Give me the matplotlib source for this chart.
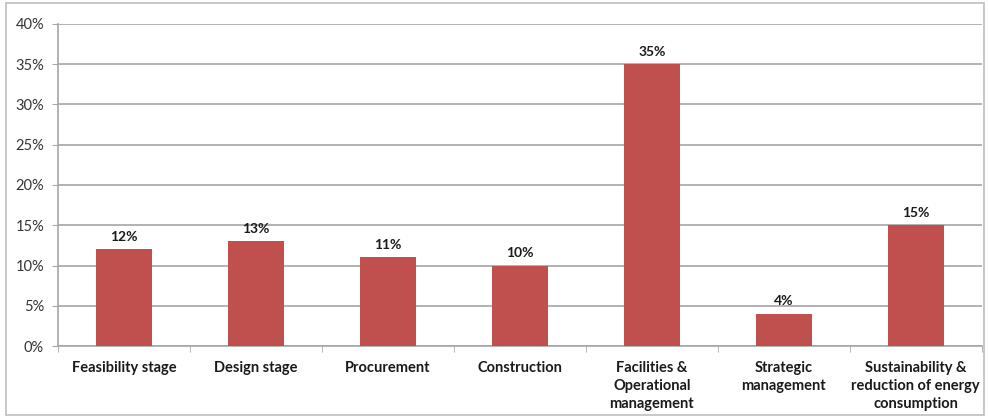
import matplotlib.pyplot as plt
from matplotlib.patches import Rectangle
import numpy as np

categories = ['Feasibility stage', 'Design stage', 'Procurement', 'Construction',
              'Facilities &\nOperational\nmanagement', 'Strategic\nmanagement',
              'Sustainability &\nreduction of energy\nconsumption']
values = [12, 13, 11, 10, 35, 4, 15]
value_labels = ['12%', '13%', '11%', '10%', '35%', '4%', '15%']
y_ticks = [0, 5, 10, 15, 20, 25, 30, 35, 40]

plt.rcParams['font.family'] = ['Lato', 'DejaVu Sans']

fig = plt.figure(figsize=(9.88, 4.18), dpi=100)
ax = fig.add_axes([0.0587, 0.172, 0.935, 0.771])

x = np.arange(len(categories))
ax.bar(x, values, width=0.42, color='#C0504D', zorder=3)

for xi, v, lab in zip(x, values, value_labels):
    ax.text(xi, v + 0.8, lab, ha='center', va='bottom', fontsize=10, fontweight='bold', color='#1a1a1a')

ax.set_xlim(-0.5, len(categories) - 0.5)
ax.set_ylim(0, 40)
ax.set_yticks(y_ticks)
ax.set_yticklabels([f'{t}%' for t in y_ticks], fontsize=10.5, color='#333333')
ax.yaxis.grid(True, color='#a6a6a6', linewidth=1.2, zorder=0)

ax.set_xticks(x)
ax.set_xticklabels(categories, fontsize=10.5, fontweight='bold', color='#1a1a1a', linespacing=1.35)
ax.tick_params(axis='x', length=0, pad=11)
ax.set_xticks(np.arange(-0.5, len(categories)), minor=True)
ax.tick_params(axis='x', which='minor', length=4, color='#a6a6a6', direction='out')
ax.tick_params(axis='y', length=4, color='#a6a6a6', pad=6)

for side in ['top', 'right']:
    ax.spines[side].set_visible(False)
for side in ['left', 'bottom']:
    ax.spines[side].set_color('#a6a6a6')
    ax.spines[side].set_linewidth(1.2)

# light frame around the whole chart
fig.patches.append(Rectangle((0.006, 0.006), 0.99, 0.988, transform=fig.transFigure,
                             fill=False, edgecolor='#bfbfbf', linewidth=1.2))

plt.savefig('out.png', dpi=100)
